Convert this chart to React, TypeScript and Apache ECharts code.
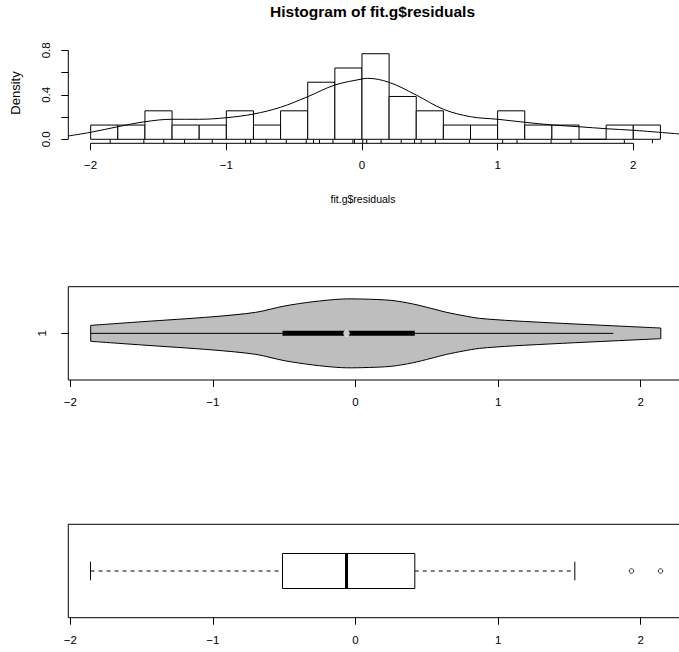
import React, { useEffect, useRef } from "react";
import * as echarts from "echarts";

// ---------- data ----------
const histBreaks = [-2.0, -1.8, -1.6, -1.4, -1.2, -1.0, -0.8, -0.6, -0.4, -0.2, 0.0, 0.2, 0.4, 0.6, 0.8, 1.0, 1.2, 1.4, 1.6, 1.8, 2.0, 2.2];
const histDensity = [0.128, 0.128, 0.256, 0.128, 0.128, 0.256, 0.128, 0.256, 0.513, 0.641, 0.769, 0.385, 0.256, 0.128, 0.128, 0.256, 0.128, 0.128, 0.0, 0.128, 0.128];

const densityX = [-2.165, -2.0, -1.8, -1.6, -1.4, -1.2, -1.0, -0.8, -0.6, -0.4, -0.2, 0.0, 0.04, 0.2, 0.4, 0.6, 0.8, 1.0, 1.2, 1.4, 1.6, 1.8, 2.0, 2.34];
const densityY = [0.03, 0.063, 0.113, 0.158, 0.18, 0.18, 0.194, 0.227, 0.288, 0.383, 0.488, 0.542, 0.548, 0.512, 0.398, 0.27, 0.203, 0.18, 0.153, 0.129, 0.113, 0.095, 0.081, 0.048];

const rugValues = [-1.856, -1.608, -1.461, -1.308, -1.104, -0.858, -0.821, -0.706, -0.558, -0.411, -0.357, -0.313, -0.214, -0.067, -0.055, 0.006, 0.035, 0.141, 0.289, 0.387, 0.436, 0.541, 0.792, 1.037, 1.143, 1.394, 1.541, 1.934, 2.141];

const violinX = [-1.857, -1.5, -1.0, -0.7, -0.5, -0.3, -0.1, 0.05, 0.25, 0.4, 0.53, 0.64, 0.76, 0.87, 1.1, 1.45, 1.8, 2.141];
const violinHalf = [0.171, 0.249, 0.356, 0.45, 0.585, 0.677, 0.735, 0.735, 0.707, 0.632, 0.536, 0.45, 0.377, 0.322, 0.27, 0.214, 0.163, 0.114];
const violinWhisker = [-1.858, 1.808];
const violinBox = [-0.512, 0.416];
const violinMedian = -0.063;

// boxplot: [lower whisker, Q1, median, Q3, upper whisker]
const boxStats = [-1.858, -0.512, -0.063, 0.416, 1.538];
const boxOutliers = [1.935, 2.139];

const xTicks = [-2, -1, 0, 1, 2];
const histYTicks = [0, 0.2, 0.4, 0.6, 0.8];
const histYLabels = [0, 0.4, 0.8];

// ---------- layout ----------
const FONT = "'Liberation Sans', Arial, Helvetica, sans-serif";
const W = 679;
const H = 652;
const PLOT_LEFT = 68.3;
const PLOT_W = W - PLOT_LEFT;
const HIST_XMIN = -2.165;
const HIST_XMAX = HIST_XMIN + PLOT_W / 135.65;
const HIST_YMIN = -0.036;
const HIST_YMAX = 0.8926;
const BX_XMIN = -2.014;
const BX_XMAX = BX_XMIN + PLOT_W / 142.6;
const TICK_FS = 11.5;

const minus = (v: number) => String(v).replace("-", "\u2212");

export default function App() {
  const ref = useRef<HTMLDivElement>(null);

  useEffect(() => {
    if (!ref.current) return;
    const chart = echarts.init(ref.current, null, { renderer: "svg", width: W, height: H });

    const tickLabel = { color: "#000", fontSize: TICK_FS, fontFamily: FONT };

    const xAxisCommon = (gridIndex: number, min: number, max: number, margin: number) => ({
      gridIndex,
      type: "value",
      min,
      max,
      axisLine: { show: false, onZero: false },
      splitLine: { show: false },
      axisTick: { show: true, length: 7, inside: false, lineStyle: { color: "#000", width: 1 }, customValues: xTicks },
      axisLabel: { ...tickLabel, margin, customValues: xTicks, formatter: (v: number) => minus(v) },
    });

    const frameSeries = (idx: number) => ({
      type: "custom",
      xAxisIndex: idx,
      yAxisIndex: idx,
      clip: false,
      silent: true,
      data: [[BX_XMIN, 1, -1]],
      renderItem: (_p: any, api: any) => {
        const a = api.coord([api.value(0), api.value(1)]);
        const b = api.coord([api.value(0), api.value(2)]);
        return {
          type: "rect",
          shape: { x: a[0], y: a[1], width: W + 20 - a[0], height: b[1] - a[1] },
          style: { fill: null, stroke: "#000", lineWidth: 1 },
        };
      },
    });

    const option: any = {
      animation: false,
      textStyle: { fontFamily: FONT },
      grid: [
        { left: PLOT_LEFT, top: 40, width: PLOT_W, height: 103.3, show: false },
        { left: PLOT_LEFT, top: 286.7, width: PLOT_W, height: 93.3, show: false },
        { left: PLOT_LEFT, top: 524.3, width: PLOT_W, height: 93.4, show: false },
      ],
      xAxis: [
        xAxisCommon(0, HIST_XMIN, HIST_XMAX, 16),
        xAxisCommon(1, BX_XMIN, BX_XMAX, 16),
        xAxisCommon(2, BX_XMIN, BX_XMAX, 16),
      ],
      yAxis: [
        {
          gridIndex: 0,
          type: "value",
          min: HIST_YMIN,
          max: HIST_YMAX,
          axisLine: { show: false, onZero: false },
          splitLine: { show: false },
          axisTick: { show: true, length: 7, lineStyle: { color: "#000" }, customValues: histYTicks },
          axisLabel: { ...tickLabel, rotate: 90, margin: 16, customValues: histYLabels, formatter: (v: number) => v.toFixed(1) },
        },
        {
          gridIndex: 1,
          type: "value",
          min: -1,
          max: 1,
          axisLine: { show: false, onZero: false },
          splitLine: { show: false },
          axisTick: { show: true, length: 7, lineStyle: { color: "#000" }, customValues: [0] },
          axisLabel: { ...tickLabel, rotate: 90, margin: 20, customValues: [0], formatter: () => "1" },
        },
        {
          gridIndex: 2,
          type: "value",
          min: -1,
          max: 1,
          show: false,
          axisLine: { onZero: false },
        },
      ],
      graphic: [
        {
          type: "text",
          x: 372.5,
          y: 11,
          style: { text: "Histogram of fit.g$residuals", font: `bold 15.5px ${FONT}`, fill: "#000", textAlign: "center", textVerticalAlign: "middle" },
        },
        {
          type: "text",
          x: 363,
          y: 199,
          style: { text: "fit.g$residuals", font: `10.5px ${FONT}`, fill: "#000", textAlign: "center", textVerticalAlign: "middle" },
        },
        {
          type: "text",
          x: 15,
          y: 93,
          rotation: Math.PI / 2,
          style: { text: "Density", font: `13px ${FONT}`, fill: "#000", textAlign: "center", textVerticalAlign: "middle" },
        },
      ],
      series: [
        // histogram bars
        {
          type: "custom",
          xAxisIndex: 0,
          yAxisIndex: 0,
          data: histDensity.map((d, i) => [histBreaks[i], histBreaks[i + 1], d]),
          encode: { x: [0, 1], y: 2 },
          renderItem: (_p: any, api: any) => {
            const p0 = api.coord([api.value(0), api.value(2)]);
            const p1 = api.coord([api.value(1), 0]);
            return {
              type: "rect",
              shape: { x: p0[0], y: p0[1], width: p1[0] - p0[0], height: p1[1] - p0[1] },
              style: { fill: "#fff", stroke: "#000", lineWidth: 1 },
            };
          },
        },
        // rug
        {
          type: "custom",
          xAxisIndex: 0,
          yAxisIndex: 0,
          data: rugValues.map((v) => [v, HIST_YMIN]),
          renderItem: (_p: any, api: any) => {
            const p = api.coord([api.value(0), api.value(1)]);
            return { type: "line", shape: { x1: p[0], y1: p[1], x2: p[0], y2: p[1] - 3.5 }, style: { stroke: "#000", lineWidth: 1 } };
          },
        },
        // histogram x-axis line (-2..2)
        {
          type: "line",
          xAxisIndex: 0,
          yAxisIndex: 0,
          data: [[xTicks[0], HIST_YMIN], [xTicks[xTicks.length - 1], HIST_YMIN]],
          symbol: "none",
          clip: false,
          lineStyle: { color: "#000", width: 1 },
        },
        // histogram y-axis line (0..0.8)
        {
          type: "line",
          xAxisIndex: 0,
          yAxisIndex: 0,
          data: [[HIST_XMIN, histYTicks[0]], [HIST_XMIN, histYTicks[histYTicks.length - 1]]],
          symbol: "none",
          clip: false,
          lineStyle: { color: "#000", width: 1 },
        },
        // density curve
        {
          type: "line",
          xAxisIndex: 0,
          yAxisIndex: 0,
          data: densityX.map((x, i) => [x, densityY[i]]),
          symbol: "none",
          smooth: 0.35,
          clip: true,
          lineStyle: { color: "#000", width: 1 },
        },
        frameSeries(1),
        // violin
        {
          type: "custom",
          xAxisIndex: 1,
          yAxisIndex: 1,
          data: [[0]],
          renderItem: (_p: any, api: any) => {
            const top = violinX.map((x, i) => api.coord([x, violinHalf[i]]));
            const bot = violinX.map((x, i) => api.coord([x, -violinHalf[i]]));
            const poly = top.concat(bot.slice().reverse());
            const wl = api.coord([violinWhisker[0], 0]);
            const wr = api.coord([violinWhisker[1], 0]);
            const bl = api.coord([violinBox[0], 0]);
            const br = api.coord([violinBox[1], 0]);
            const n = top.length - 1;
            return {
              type: "group",
              children: [
                { type: "polygon", shape: { points: poly }, style: { fill: "#bebebe", stroke: null } },
                { type: "polyline", shape: { points: top, smooth: 0.3 }, style: { stroke: "#000", lineWidth: 1, fill: null } },
                { type: "polyline", shape: { points: bot, smooth: 0.3 }, style: { stroke: "#000", lineWidth: 1, fill: null } },
                { type: "line", shape: { x1: top[0][0], y1: top[0][1], x2: bot[0][0], y2: bot[0][1] }, style: { stroke: "#000", lineWidth: 1 } },
                { type: "line", shape: { x1: top[n][0], y1: top[n][1], x2: bot[n][0], y2: bot[n][1] }, style: { stroke: "#000", lineWidth: 1 } },
                { type: "line", shape: { x1: wl[0], y1: wl[1], x2: wr[0], y2: wr[1] }, style: { stroke: "#000", lineWidth: 1 } },
                { type: "line", shape: { x1: bl[0], y1: bl[1], x2: br[0], y2: br[1] }, style: { stroke: "#000", lineWidth: 5 } },
              ],
            };
          },
        },
        // violin median point
        {
          type: "scatter",
          xAxisIndex: 1,
          yAxisIndex: 1,
          data: [[violinMedian, 0]],
          symbol: "circle",
          symbolSize: 6.5,
          itemStyle: { color: "#fff", borderWidth: 0 },
          z: 5,
        },
        frameSeries(2),
        // boxplot
        {
          type: "custom",
          xAxisIndex: 2,
          yAxisIndex: 2,
          data: [boxStats],
          renderItem: (_p: any, api: any) => {
            const [lo, q1, med, q3, hi] = [0, 1, 2, 3, 4].map((k) => api.value(k));
            const half = 0.375;
            const staple = 0.2;
            const bTop = api.coord([q1, half]);
            const bBot = api.coord([q3, -half]);
            const mT = api.coord([med, half]);
            const mB = api.coord([med, -half]);
            const loP = api.coord([lo, 0]);
            const q1P = api.coord([q1, 0]);
            const q3P = api.coord([q3, 0]);
            const hiP = api.coord([hi, 0]);
            const loT = api.coord([lo, staple]);
            const loB = api.coord([lo, -staple]);
            const hiT = api.coord([hi, staple]);
            const hiB = api.coord([hi, -staple]);
            const dash = { stroke: "#000", lineWidth: 1, lineDash: [4, 4] };
            return {
              type: "group",
              children: [
                { type: "line", shape: { x1: loP[0], y1: loP[1], x2: q1P[0], y2: q1P[1] }, style: dash },
                { type: "line", shape: { x1: q3P[0], y1: q3P[1], x2: hiP[0], y2: hiP[1] }, style: dash },
                { type: "line", shape: { x1: loT[0], y1: loT[1], x2: loB[0], y2: loB[1] }, style: { stroke: "#000", lineWidth: 1 } },
                { type: "line", shape: { x1: hiT[0], y1: hiT[1], x2: hiB[0], y2: hiB[1] }, style: { stroke: "#000", lineWidth: 1 } },
                {
                  type: "rect",
                  shape: { x: bTop[0], y: bTop[1], width: bBot[0] - bTop[0], height: bBot[1] - bTop[1] },
                  style: { fill: "#fff", stroke: "#000", lineWidth: 1 },
                },
                { type: "line", shape: { x1: mT[0], y1: mT[1], x2: mB[0], y2: mB[1] }, style: { stroke: "#000", lineWidth: 3 } },
              ],
            };
          },
        },
        // outliers
        {
          type: "scatter",
          xAxisIndex: 2,
          yAxisIndex: 2,
          data: boxOutliers.map((v) => [v, 0]),
          symbol: "circle",
          symbolSize: 4.5,
          itemStyle: { color: "#fff", borderColor: "#000", borderWidth: 1 },
        },
      ],
    };

    chart.setOption(option);
    return () => chart.dispose();
  }, []);

  return <div ref={ref} style={{ position: "absolute", left: 0, top: 0, width: W, height: H, background: "#fff" }} />;
}
